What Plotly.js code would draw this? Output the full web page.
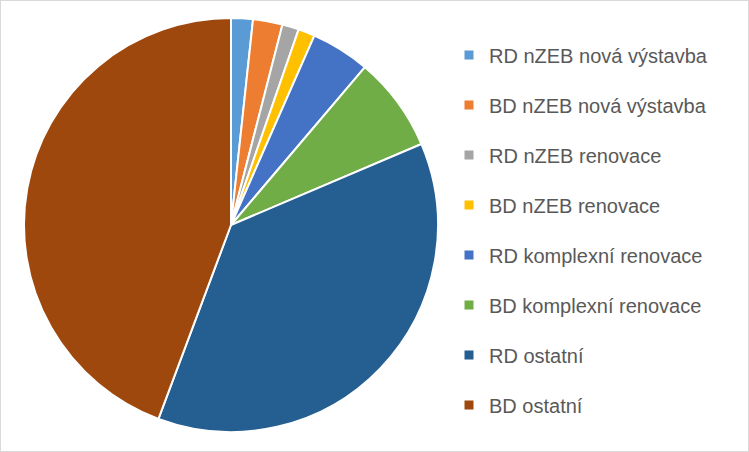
<!DOCTYPE html>
<html>
<head>
<meta charset="utf-8">
<script src="https://cdn.plot.ly/plotly-3.0.1.min.js"></script>
<style>
html,body{margin:0;padding:0;background:#fff;}
#chart{width:749px;height:452px;}
</style>
</head>
<body>
<div id="chart"></div>
<script>
// Data (percent shares)
const labels = [
  "RD nZEB nová výstavba",
  "BD nZEB nová výstavba",
  "RD nZEB renovace",
  "BD nZEB renovace",
  "RD komplexní renovace",
  "BD komplexní renovace",
  "RD ostatní",
  "BD ostatní"
];
const values = [1.7, 2.3, 1.3, 1.3, 4.6, 7.4, 37.1, 44.3];
const colors = ["#5B9BD5", "#ED7D31", "#A5A5A5", "#FFC000", "#4472C4", "#70AD47", "#255E91", "#9E480E"];

const W = 749, H = 452;
const cx = 231, cy = 225, r = 207;

const traces = [{
  type: "pie",
  labels: labels,
  values: values,
  sort: false,
  direction: "clockwise",
  rotation: 0,
  marker: {colors: colors, line: {color: "#FFFFFF", width: 2}},
  textinfo: "none",
  hoverinfo: "label+percent",
  showlegend: false,
  domain: {
    x: [(cx - r) / W, (cx + r) / W],
    y: [(H - cy - r) / H, (H - cy + r) / H]
  }
}];

// legend entries (one per category, mapped to the pie colours)
labels.forEach((lab, i) => {
  traces.push({
    type: "scatter",
    mode: "markers",
    x: [null], y: [null],
    name: lab,
    legendgroup: "g" + i,
    marker: {symbol: "square", size: 9, color: colors[i]},
    showlegend: true,
    hoverinfo: "skip"
  });
});

const layout = {
  width: W, height: H,
  margin: {l: 0, r: 0, t: 0, b: 0},
  paper_bgcolor: "#FFFFFF",
  plot_bgcolor: "rgba(0,0,0,0)",
  xaxis: {visible: false, domain: [0.99, 1]},
  yaxis: {visible: false, domain: [0.99, 1]},
  font: {family: "Liberation Sans, Arial, sans-serif", color: "#595959"},
  showlegend: true,
  legend: {
    x: 449 / W, xanchor: "left",
    y: 1 - 35.5 / H, yanchor: "top",
    font: {size: 20, color: "#595959", family: "Liberation Sans, Arial, sans-serif"},
    tracegroupgap: 21,
    itemclick: false, itemdoubleclick: false,
    bgcolor: "rgba(0,0,0,0)"
  },
  shapes: [{
    type: "rect", xref: "paper", yref: "paper",
    x0: 0, x1: 1, y0: 0, y1: 1,
    line: {color: "#D9D9D9", width: 2}
  }]
};

Plotly.newPlot("chart", traces, layout, {displayModeBar: false, staticPlot: true});
</script>
</body>
</html>
